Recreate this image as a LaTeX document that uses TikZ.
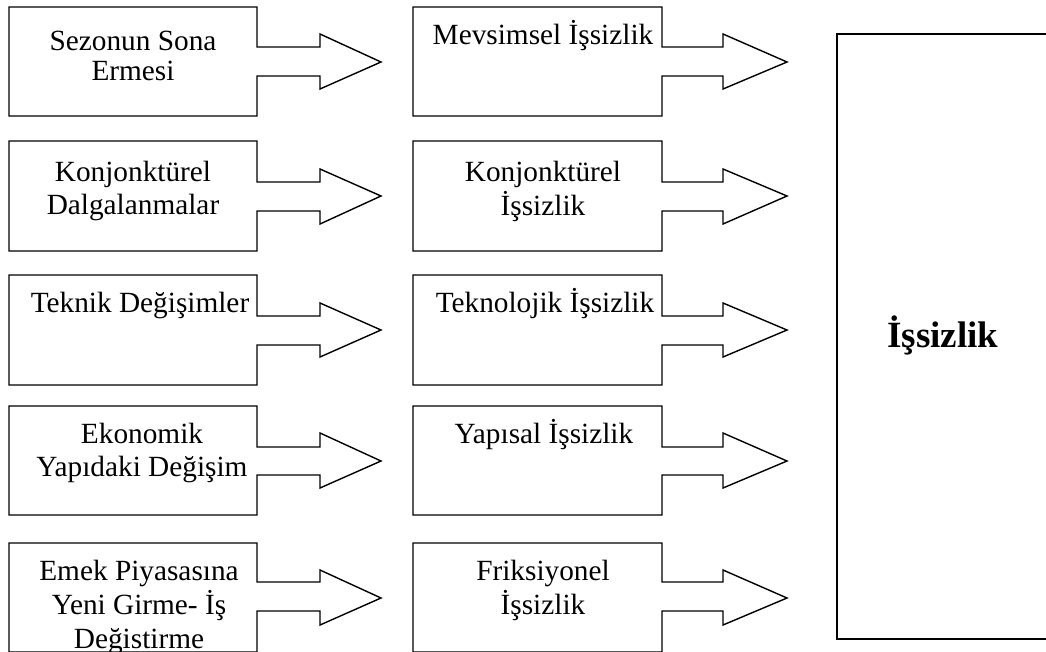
\documentclass[tikz,border=0pt]{standalone}
\usepackage{fontspec}
\setmainfont{Liberation Serif}
\begin{document}
\tikzset{
  shp/.style={draw=black, line width=1.4pt, line join=miter, fill=white},
  lbl/.style={font=\fontsize{29.3}{33}\selectfont, inner sep=0pt, anchor=base},
  big/.style={font=\fontsize{37}{40}\selectfont\bfseries, inner sep=0pt, anchor=base}
}
\newcommand{\ml}[1]{\begin{tabular}[t]{@{}c@{}}#1\end{tabular}}
\begin{tikzpicture}[x=1pt,y=-1pt]
\useasboundingbox (0,0) rectangle (1046,651);
\clip (0,0) rectangle (1046,651);
% box + block-arrow outlines
\foreach \T/\B/\sT/\sB/\hT/\hB/\ty in {7/116/47/76/34/89/62, 141/251/182/211/169/224/196, 275/385/316/345/303/357/330, 406/515/447/475/433/488/461, 543/652/582/611/570/625/598}{
  \foreach \L/\R/\S/\P in {9/257/320/381, 413/662/723/787}{
    \draw[shp] (\L,\T) -- (\R,\T) -- (\R,\sT) -- (\S,\sT) -- (\S,\hT) -- (\P,\ty) -- (\S,\hB) -- (\S,\sB) -- (\R,\sB) -- (\R,\B) -- (\L,\B) -- cycle;
  }
}
% big box (right side runs past the edge)
\draw[shp, fill=none] (1070,34) -- (837,34) -- (837,639) -- (1070,639);
% texts
\node[lbl, font=\fontsize{29.3}{30}\selectfont] (a1) at (133,50) {\ml{Sezonun Sona\\Ermesi}};
\node[lbl] (b1) at (543,44) {Mevsimsel İşsizlik};
\node[lbl] (a2) at (133,181) {\ml{Konjonktürel\\Dalgalanmalar}};
\node[lbl] (b2) at (543,181) {\ml{Konjonktürel\\İşsizlik}};
\node[lbl] (a3) at (140,312) {Teknik Değişimler};
\node[lbl] (b3) at (545,312) {Teknolojik İşsizlik};
\node[lbl] (a4) at (142,443) {\ml{Ekonomik\\Yapıdaki Değişim}};
\node[lbl] (b4) at (544,443) {Yapısal İşsizlik};
\node[lbl, font=\fontsize{29.3}{34}\selectfont] (a5) at (139,580) {\ml{Emek Piyasasına\\Yeni Girme- İş\\Değistirme}};
\node[lbl] (b5) at (543,580) {\ml{Friksiyonel\\İşsizlik}};
\node[big] (c) at (943,347) {İşsizlik};
\end{tikzpicture}
\end{document}
